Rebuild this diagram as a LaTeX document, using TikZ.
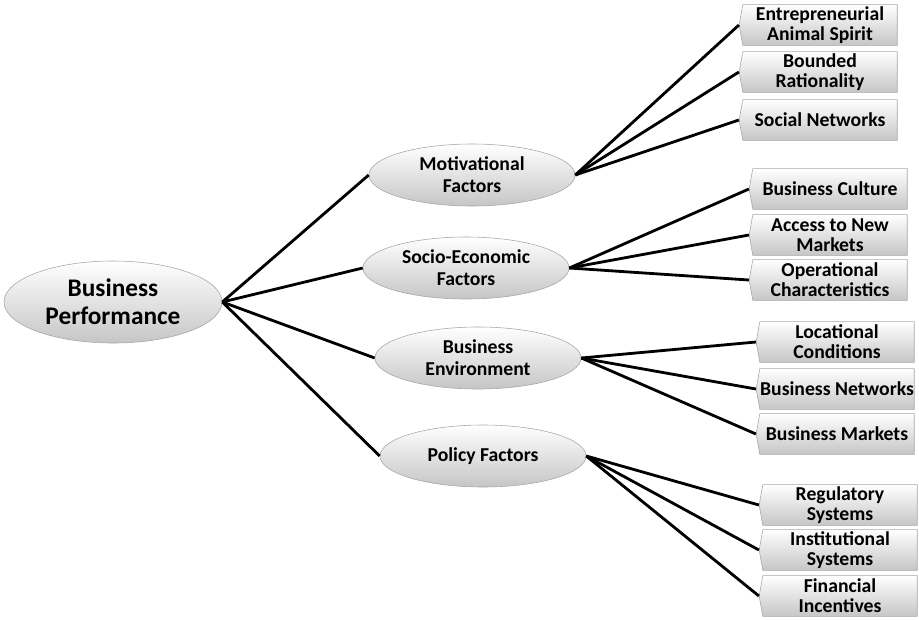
\documentclass[tikz,border=0pt]{standalone}
\usepackage{fontspec}
\setmainfont{Carlito}
\usetikzlibrary{shapes.geometric,shapes.symbols}

\begin{document}
\begin{tikzpicture}[x=0.025cm, y=-0.025cm,
    factor/.style={ellipse, draw=gray!70, top color=white, bottom color=gray!45,
        minimum width=5.15cm, minimum height=1.55cm, inner sep=0pt, align=center,
        font=\bfseries\fontsize{14}{15.5}\selectfont},
    item/.style={signal, signal to=west, signal from=nowhere, signal pointer angle=160,
        draw=gray!70, top color=white, bottom color=gray!45, minimum width=3.95cm,
        minimum height=1.02cm, inner sep=0pt, align=center,
        font=\bfseries\fontsize{14}{14.2}\selectfont},
    link/.style={line width=2pt}]
    \useasboundingbox (0,0) rectangle (919,619);

    % root
    \node[factor, minimum width=5.45cm, minimum height=2.05cm,
        font=\bfseries\fontsize{18}{20}\selectfont] (perf) at (113,302) {Business\\Performance};

    % factors
    \node[factor] (motiv) at (472,175) {Motivational\\Factors};
    \node[factor] (socio) at (466,268) {Socio-Economic\\Factors};
    \node[factor] (env) at (478,358) {Business\\Environment};
    \node[factor] (policy) at (483,456) {Policy Factors};

    % items
    \node[item] (spirit) at (820,25) {Entrepreneurial\\Animal Spirit};
    \node[item] (bounded) at (820,72) {Bounded\\Rationality};
    \node[item] (social) at (820,120) {Social Networks};
    \node[item] (culture) at (830,189) {Business Culture};
    \node[item] (access) at (830,235) {Access to New\\Markets};
    \node[item] (oper) at (830,280) {Operational\\Characteristics};
    \node[item] (locat) at (837,342) {Locational\\Conditions};
    \node[item] (bnet) at (837,389) {Business Networks};
    \node[item] (bmark) at (837,434) {Business Markets};
    \node[item] (regul) at (840,505) {Regulatory\\Systems};
    \node[item] (instit) at (840,550) {Institutional\\Systems};
    \node[item] (financ) at (840,596) {Financial\\Incentives};

    \foreach \f in {motiv,socio,env,policy}
        \draw[link] (perf.east) -- (\f.west);
    \foreach \i in {spirit,bounded,social}
        \draw[link] (motiv.east) -- (\i.west);
    \foreach \i in {culture,access,oper}
        \draw[link] (socio.east) -- (\i.west);
    \foreach \i in {locat,bnet,bmark}
        \draw[link] (env.east) -- (\i.west);
    \foreach \i in {regul,instit,financ}
        \draw[link] (policy.east) -- (\i.west);
\end{tikzpicture}
\end{document}
